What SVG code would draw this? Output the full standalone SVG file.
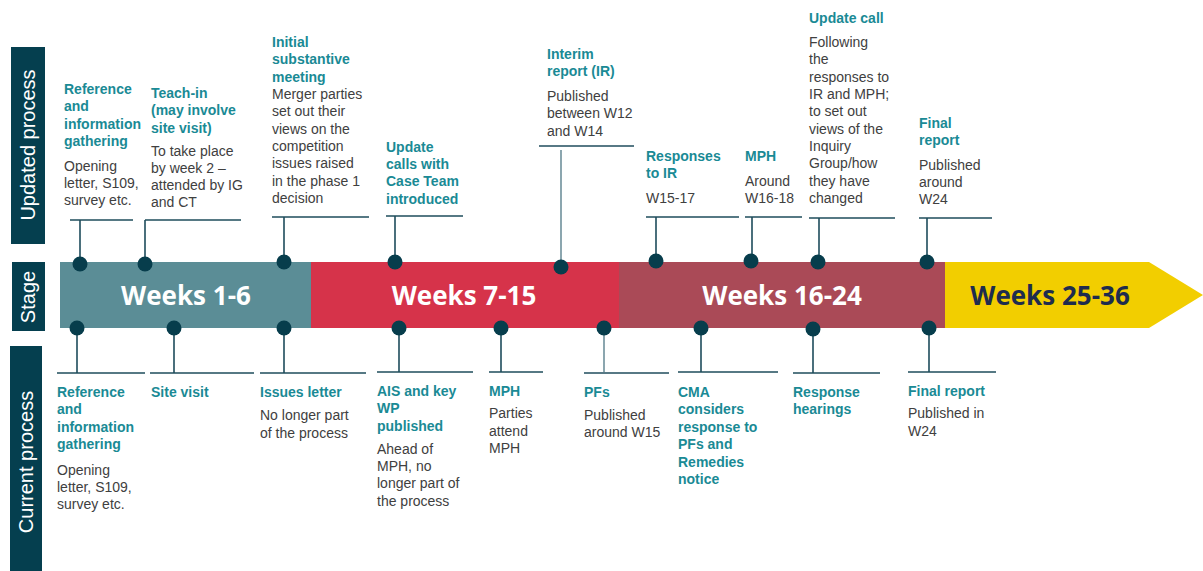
<svg xmlns="http://www.w3.org/2000/svg" width="1203" height="571" viewBox="0 0 1203 571">
  <style>
    .side { fill: #053F4F; }
    .side-text { fill: #ffffff; font-family: "Liberation Sans", Arial, sans-serif; font-size: 20px; }
    .band-text { font-family: "Open Sans", "Liberation Sans", sans-serif; font-weight: 700; font-size: 26px; }
    .ttl { fill: #1A8A95; font-family: "Liberation Sans", Arial, sans-serif; font-weight: 700; font-size: 14px; }
    .body { fill: #404040; font-family: "Liberation Sans", Arial, sans-serif; font-size: 14px; }
    .conn { stroke: #1F4D5C; stroke-width: 1.6; fill: none; }
    .conn-light { stroke: #6F909B; stroke-width: 1.6; fill: none; }
    .dot { fill: #073D4C; }
  </style>

  <!-- Row headers -->
  <g id="header-updated">
    <rect class="side" x="11" y="47" width="34" height="197"/>
    <text class="side-text" transform="translate(35 145) rotate(-90)" text-anchor="middle">Updated process</text>
  </g>
  <g id="header-stage">
    <rect class="side" x="12" y="262" width="33" height="69"/>
    <text class="side-text" transform="translate(35 297) rotate(-90)" text-anchor="middle">Stage</text>
  </g>
  <g id="header-current">
    <rect class="side" x="10" y="346" width="32" height="225"/>
    <text class="side-text" transform="translate(33 462) rotate(-90)" text-anchor="middle">Current process</text>
  </g>

  <!-- Stage band -->
  <g id="stage-1-6">
    <rect x="60" y="262" width="251" height="66" fill="#5B8D96"/>
    <text class="band-text" x="186" y="305" text-anchor="middle" fill="#ffffff">Weeks 1-6</text>
  </g>
  <g id="stage-7-15">
    <rect x="311" y="262" width="308" height="66" fill="#D6334A"/>
    <text class="band-text" x="464" y="305" text-anchor="middle" fill="#ffffff">Weeks 7-15</text>
  </g>
  <g id="stage-16-24">
    <rect x="619" y="262" width="326" height="66" fill="#AA4A57"/>
    <text class="band-text" x="782" y="305" text-anchor="middle" fill="#ffffff">Weeks 16-24</text>
  </g>
  <g id="stage-25-36">
    <polygon points="945,262 1149,262 1203,295 1149,328 945,328" fill="#F2CE00"/>
    <text class="band-text" x="1050" y="305" text-anchor="middle" fill="#1E2C4E">Weeks 25-36</text>
  </g>

  <!-- Connectors: leader lines from the band to each milestone -->
  <g id="connectors">
    <!-- updated process (above) -->
    <path class="conn" d="M70 220 H133 M80 220 V264"/>
    <path class="conn" d="M145 220 H241 M145 220 V264"/>
    <path class="conn" d="M272 217 H369 M284 217 V262"/>
    <path class="conn" d="M386 216 H463 M395 216 V262"/>
    <path class="conn" d="M539 146 H634"/>
    <path class="conn-light" d="M561 150 V267"/>
    <path class="conn" d="M646 217 H739 M656 217 V262"/>
    <path class="conn" d="M745 217 H802 M752 217 V262"/>
    <path class="conn" d="M809 218 H895 M819 218 V262"/>
    <path class="conn" d="M919 218 H992 M927 218 V262"/>
    <!-- current process (below) -->
    <path class="conn" d="M57 373 H145 M77 328 V373"/>
    <path class="conn" d="M150 373 H254 M174 328 V373"/>
    <path class="conn" d="M260 373 H366 M284 328 V373"/>
    <path class="conn" d="M377 372 H473 M399 328 V372"/>
    <path class="conn" d="M489 372 H543 M501 328 V372"/>
    <path class="conn" d="M584 373 H669"/>
    <path class="conn-light" d="M604 328 V372"/>
    <path class="conn" d="M678 372 H778 M701 328 V372"/>
    <path class="conn" d="M793 373 H880 M813 328 V373"/>
    <path class="conn" d="M908 372 H996 M929 328 V372"/>

    <!-- dots on the band -->
    <circle class="dot" cx="80" cy="264" r="7.5"/>
    <circle class="dot" cx="145" cy="264" r="7.5"/>
    <circle class="dot" cx="284" cy="262" r="7.5"/>
    <circle class="dot" cx="395" cy="262" r="7.5"/>
    <circle class="dot" cx="561" cy="267" r="7.5"/>
    <circle class="dot" cx="656" cy="261" r="7.5"/>
    <circle class="dot" cx="751" cy="261" r="7.5"/>
    <circle class="dot" cx="818" cy="262" r="7.5"/>
    <circle class="dot" cx="927" cy="262" r="7.5"/>

    <circle class="dot" cx="77" cy="328" r="7.5"/>
    <circle class="dot" cx="174" cy="328" r="7.5"/>
    <circle class="dot" cx="284" cy="328" r="7.5"/>
    <circle class="dot" cx="399" cy="328" r="7.5"/>
    <circle class="dot" cx="501" cy="328" r="7.5"/>
    <circle class="dot" cx="604" cy="328" r="7.5"/>
    <circle class="dot" cx="701" cy="328" r="7.5"/>
    <circle class="dot" cx="813" cy="329" r="7.5"/>
    <circle class="dot" cx="929" cy="328" r="7.5"/>
  </g>

  <!-- Updated process milestones -->
  <g id="up-reference">
    <text class="ttl"><tspan x="64" y="94">Reference</tspan><tspan x="64" y="111">and</tspan><tspan x="64" y="129">information</tspan><tspan x="64" y="146">gathering</tspan></text>
    <text class="body"><tspan x="64" y="171">Opening</tspan><tspan x="64" y="188">letter, S109,</tspan><tspan x="64" y="205">survey etc.</tspan></text>
  </g>
  <g id="up-teach-in">
    <text class="ttl"><tspan x="151" y="98">Teach-in</tspan><tspan x="151" y="115">(may involve</tspan><tspan x="151" y="133">site visit)</tspan></text>
    <text class="body"><tspan x="151" y="156">To take place</tspan><tspan x="151" y="173">by week 2 –</tspan><tspan x="151" y="190">attended by IG</tspan><tspan x="151" y="207">and CT</tspan></text>
  </g>
  <g id="up-initial-meeting">
    <text class="ttl"><tspan x="272" y="47">Initial</tspan><tspan x="272" y="64">substantive</tspan><tspan x="272" y="82">meeting</tspan></text>
    <text class="body"><tspan x="272" y="99">Merger parties</tspan><tspan x="272" y="116">set out their</tspan><tspan x="272" y="134">views on the</tspan><tspan x="272" y="151">competition</tspan><tspan x="272" y="168">issues raised</tspan><tspan x="272" y="186">in the phase 1</tspan><tspan x="272" y="203">decision</tspan></text>
  </g>
  <g id="up-update-calls">
    <text class="ttl"><tspan x="386" y="152">Update</tspan><tspan x="386" y="169">calls with</tspan><tspan x="386" y="186">Case Team</tspan><tspan x="386" y="204">introduced</tspan></text>
  </g>
  <g id="up-interim-report">
    <text class="ttl"><tspan x="547" y="59">Interim</tspan><tspan x="547" y="76">report (IR)</tspan></text>
    <text class="body"><tspan x="547" y="101">Published</tspan><tspan x="547" y="118">between W12</tspan><tspan x="547" y="136">and W14</tspan></text>
  </g>
  <g id="up-responses-ir">
    <text class="ttl"><tspan x="646" y="161">Responses</tspan><tspan x="646" y="178">to IR</tspan></text>
    <text class="body"><tspan x="646" y="203">W15-17</tspan></text>
  </g>
  <g id="up-mph">
    <text class="ttl"><tspan x="745" y="161">MPH</tspan></text>
    <text class="body"><tspan x="745" y="186">Around</tspan><tspan x="745" y="203">W16-18</tspan></text>
  </g>
  <g id="up-update-call">
    <text class="ttl"><tspan x="809" y="23">Update call</tspan></text>
    <text class="body"><tspan x="809" y="47">Following</tspan><tspan x="809" y="64">the</tspan><tspan x="809" y="82">responses to</tspan><tspan x="809" y="99">IR and MPH;</tspan><tspan x="809" y="116">to set out</tspan><tspan x="809" y="134">views of the</tspan><tspan x="809" y="151">Inquiry</tspan><tspan x="809" y="168">Group/how</tspan><tspan x="809" y="186">they have</tspan><tspan x="809" y="203">changed</tspan></text>
  </g>
  <g id="up-final-report">
    <text class="ttl"><tspan x="919" y="128">Final</tspan><tspan x="919" y="145">report</tspan></text>
    <text class="body"><tspan x="919" y="170">Published</tspan><tspan x="919" y="187">around</tspan><tspan x="919" y="204">W24</tspan></text>
  </g>

  <!-- Current process milestones -->
  <g id="cur-reference">
    <text class="ttl"><tspan x="57" y="397">Reference</tspan><tspan x="57" y="414">and</tspan><tspan x="57" y="432">information</tspan><tspan x="57" y="449">gathering</tspan></text>
    <text class="body"><tspan x="57" y="475">Opening</tspan><tspan x="57" y="492">letter, S109,</tspan><tspan x="57" y="509">survey etc.</tspan></text>
  </g>
  <g id="cur-site-visit">
    <text class="ttl"><tspan x="151" y="397">Site visit</tspan></text>
  </g>
  <g id="cur-issues-letter">
    <text class="ttl"><tspan x="260" y="397">Issues letter</tspan></text>
    <text class="body"><tspan x="260" y="420">No longer part</tspan><tspan x="260" y="438">of the process</tspan></text>
  </g>
  <g id="cur-ais-wp">
    <text class="ttl"><tspan x="377" y="396">AIS and key</tspan><tspan x="377" y="413">WP</tspan><tspan x="377" y="431">published</tspan></text>
    <text class="body"><tspan x="377" y="454">Ahead of</tspan><tspan x="377" y="471">MPH, no</tspan><tspan x="377" y="488">longer part of</tspan><tspan x="377" y="506">the process</tspan></text>
  </g>
  <g id="cur-mph">
    <text class="ttl"><tspan x="489" y="396">MPH</tspan></text>
    <text class="body"><tspan x="489" y="418">Parties</tspan><tspan x="489" y="436">attend</tspan><tspan x="489" y="453">MPH</tspan></text>
  </g>
  <g id="cur-pfs">
    <text class="ttl"><tspan x="584" y="397">PFs</tspan></text>
    <text class="body"><tspan x="584" y="420">Published</tspan><tspan x="584" y="437">around W15</tspan></text>
  </g>
  <g id="cur-cma-considers">
    <text class="ttl"><tspan x="678" y="397">CMA</tspan><tspan x="678" y="414">considers</tspan><tspan x="678" y="432">response to</tspan><tspan x="678" y="449">PFs and</tspan><tspan x="678" y="467">Remedies</tspan><tspan x="678" y="484">notice</tspan></text>
  </g>
  <g id="cur-response-hearings">
    <text class="ttl"><tspan x="793" y="397">Response</tspan><tspan x="793" y="414">hearings</tspan></text>
  </g>
  <g id="cur-final-report">
    <text class="ttl"><tspan x="908" y="396">Final report</tspan></text>
    <text class="body"><tspan x="908" y="418">Published in</tspan><tspan x="908" y="436">W24</tspan></text>
  </g>
</svg>
